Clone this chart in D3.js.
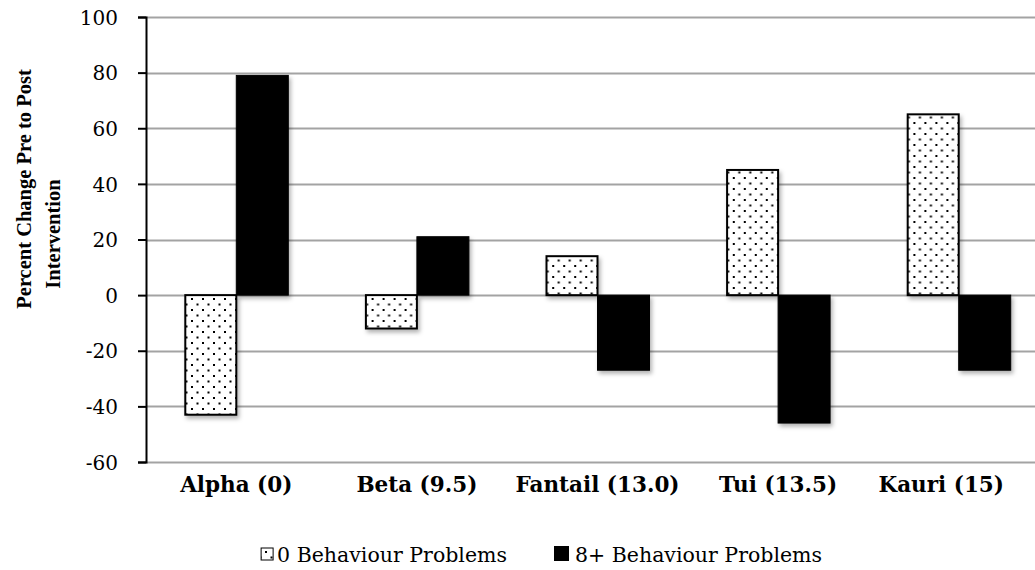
<!DOCTYPE html>
<html>
<head>
<meta charset="utf-8">
<script src="https://cdn.jsdelivr.net/npm/d3@7"></script>
<style>
  html, body { margin: 0; padding: 0; background: #fff; }
  svg { display: block; }
  text { font-family: "DejaVu Serif", "Liberation Serif", serif; fill: #000; }
</style>
</head>
<body>
<svg id="chart" width="1035" height="570"></svg>
<script>
// ---- data ----
const categories = ["Alpha (0)", "Beta (9.5)", "Fantail (13.0)", "Tui (13.5)", "Kauri (15)"];
const seriesNames = ["0 Behaviour Problems", "8+ Behaviour Problems"];
const zeroProblems = [-43, -12, 14, 45, 65];
const eightPlusProblems = [79, 21, -27, -46, -27];
const yTicks = [-60, -40, -20, 0, 20, 40, 60, 80, 100];
const yTitleLines = ["Percent Change Pre to Post", "Intervention"];

const seriesValues = [zeroProblems, eightPlusProblems];

const svg = d3.select("#chart");
const W = 1035, H = 570;
const plot = { left: 146, right: 1049, top: 17, bottom: 462 };

const defs = svg.append("defs");
const pat = defs.append("pattern")
  .attr("id", "dots").attr("patternUnits", "userSpaceOnUse")
  .attr("width", 11).attr("height", 11);
pat.append("rect").attr("width", 11).attr("height", 11).attr("fill", "#fff");
pat.append("rect").attr("x", 1).attr("y", 1).attr("width", 2).attr("height", 2).attr("fill", "#000");
pat.append("rect").attr("x", 6.5).attr("y", 6.5).attr("width", 2).attr("height", 2).attr("fill", "#000");

const shadow = defs.append("filter").attr("id", "shadow")
  .attr("x", "-20%").attr("y", "-20%").attr("width", "150%").attr("height", "150%");
shadow.append("feDropShadow").attr("dx", 2).attr("dy", 3).attr("stdDeviation", 2)
  .attr("flood-color", "#000").attr("flood-opacity", 0.3);

const y = d3.scaleLinear().domain([-60, 100]).range([plot.bottom, plot.top]);
const x0 = d3.scaleBand().domain(categories).range([plot.left, plot.right]).padding(0);
const groupW = 104;
const x1 = d3.scaleBand().domain(seriesNames)
  .range([(x0.bandwidth() - groupW) / 2, (x0.bandwidth() + groupW) / 2]).padding(0);

// gridlines
svg.append("g").selectAll("line").data(yTicks).join("line")
  .attr("x1", plot.left).attr("x2", W)
  .attr("y1", d => Math.round(y(d)) + 0.5).attr("y2", d => Math.round(y(d)) + 0.5)
  .attr("stroke", "#a3a3a3").attr("stroke-width", 2);

// bars
const groups = svg.append("g").selectAll("g").data(categories).join("g")
  .attr("transform", d => `translate(${x0(d)},0)`);

groups.selectAll("rect").data((c, i) => seriesNames.map((s, j) => ({ s, j, v: seriesValues[j][i] })))
  .join("rect")
  .attr("x", d => x1(d.s) + (d.j === 0 ? 1 : 0))
  .attr("width", d => x1.bandwidth() - (d.j === 0 ? 1 : 0))
  .attr("y", d => y(Math.max(0, d.v)))
  .attr("height", d => Math.abs(y(d.v) - y(0)))
  .attr("fill", d => d.j === 0 ? "url(#dots)" : "#000")
  .attr("stroke", "#000")
  .attr("stroke-width", d => d.j === 0 ? 2 : 1)
  .attr("filter", "url(#shadow)");

// y axis
const yAxis = d3.axisLeft(y).tickValues(yTicks).tickSize(8).tickPadding(20)
  .tickFormat(d => String(d));
const yg = svg.append("g").attr("transform", `translate(${plot.left},0)`).call(yAxis);
yg.select(".domain").attr("stroke", "#000").attr("stroke-width", 2);
yg.selectAll(".tick line").attr("stroke", "#000").attr("stroke-width", 2);
yg.selectAll(".tick text").attr("font-size", 20).attr("dy", "0.36em");

// x category labels (kept inside the chart area like the original)
const labelMaxRight = 1004;
svg.append("g").selectAll("text").data(categories).join("text")
  .attr("y", 492)
  .attr("text-anchor", "middle")
  .attr("font-size", 21.5).attr("font-weight", "bold")
  .text(d => d)
  .attr("x", function(d) {
    const c = x0(d) + x0.bandwidth() / 2;
    const w = this.getComputedTextLength();
    return Math.min(c, labelMaxRight - w / 2);
  });

// y title
const yTitle = svg.append("g");
yTitle.selectAll("text").data(yTitleLines).join("text")
  .attr("transform", (d, i) => `translate(${i === 0 ? 31 : 60},${i === 0 ? 189 : 234}) rotate(-90)`)
  .attr("text-anchor", "middle")
  .style("font-family", "'Liberation Serif', serif")
  .attr("font-size", 20.5).attr("font-weight", "bold")
  .text(d => d);

// legend
const legendFont = 20.5;
const legend = svg.append("g");
legend.append("text").attr("x", 575).attr("y", 562)
  .attr("font-size", legendFont).text(seriesNames[1]);
const t1 = legend.append("text").attr("x", 507).attr("y", 562).attr("text-anchor", "end")
  .attr("font-size", legendFont).text(seriesNames[0]);
const w1 = t1.node().getComputedTextLength();
legend.append("rect").attr("x", 507 - w1 - 16).attr("y", 548).attr("width", 12).attr("height", 12)
  .attr("fill", "url(#dots)").attr("stroke", "#000").attr("stroke-width", 1);
legend.append("rect").attr("x", 554).attr("y", 546).attr("width", 15).attr("height", 15).attr("fill", "#000");
</script>
</body>
</html>
